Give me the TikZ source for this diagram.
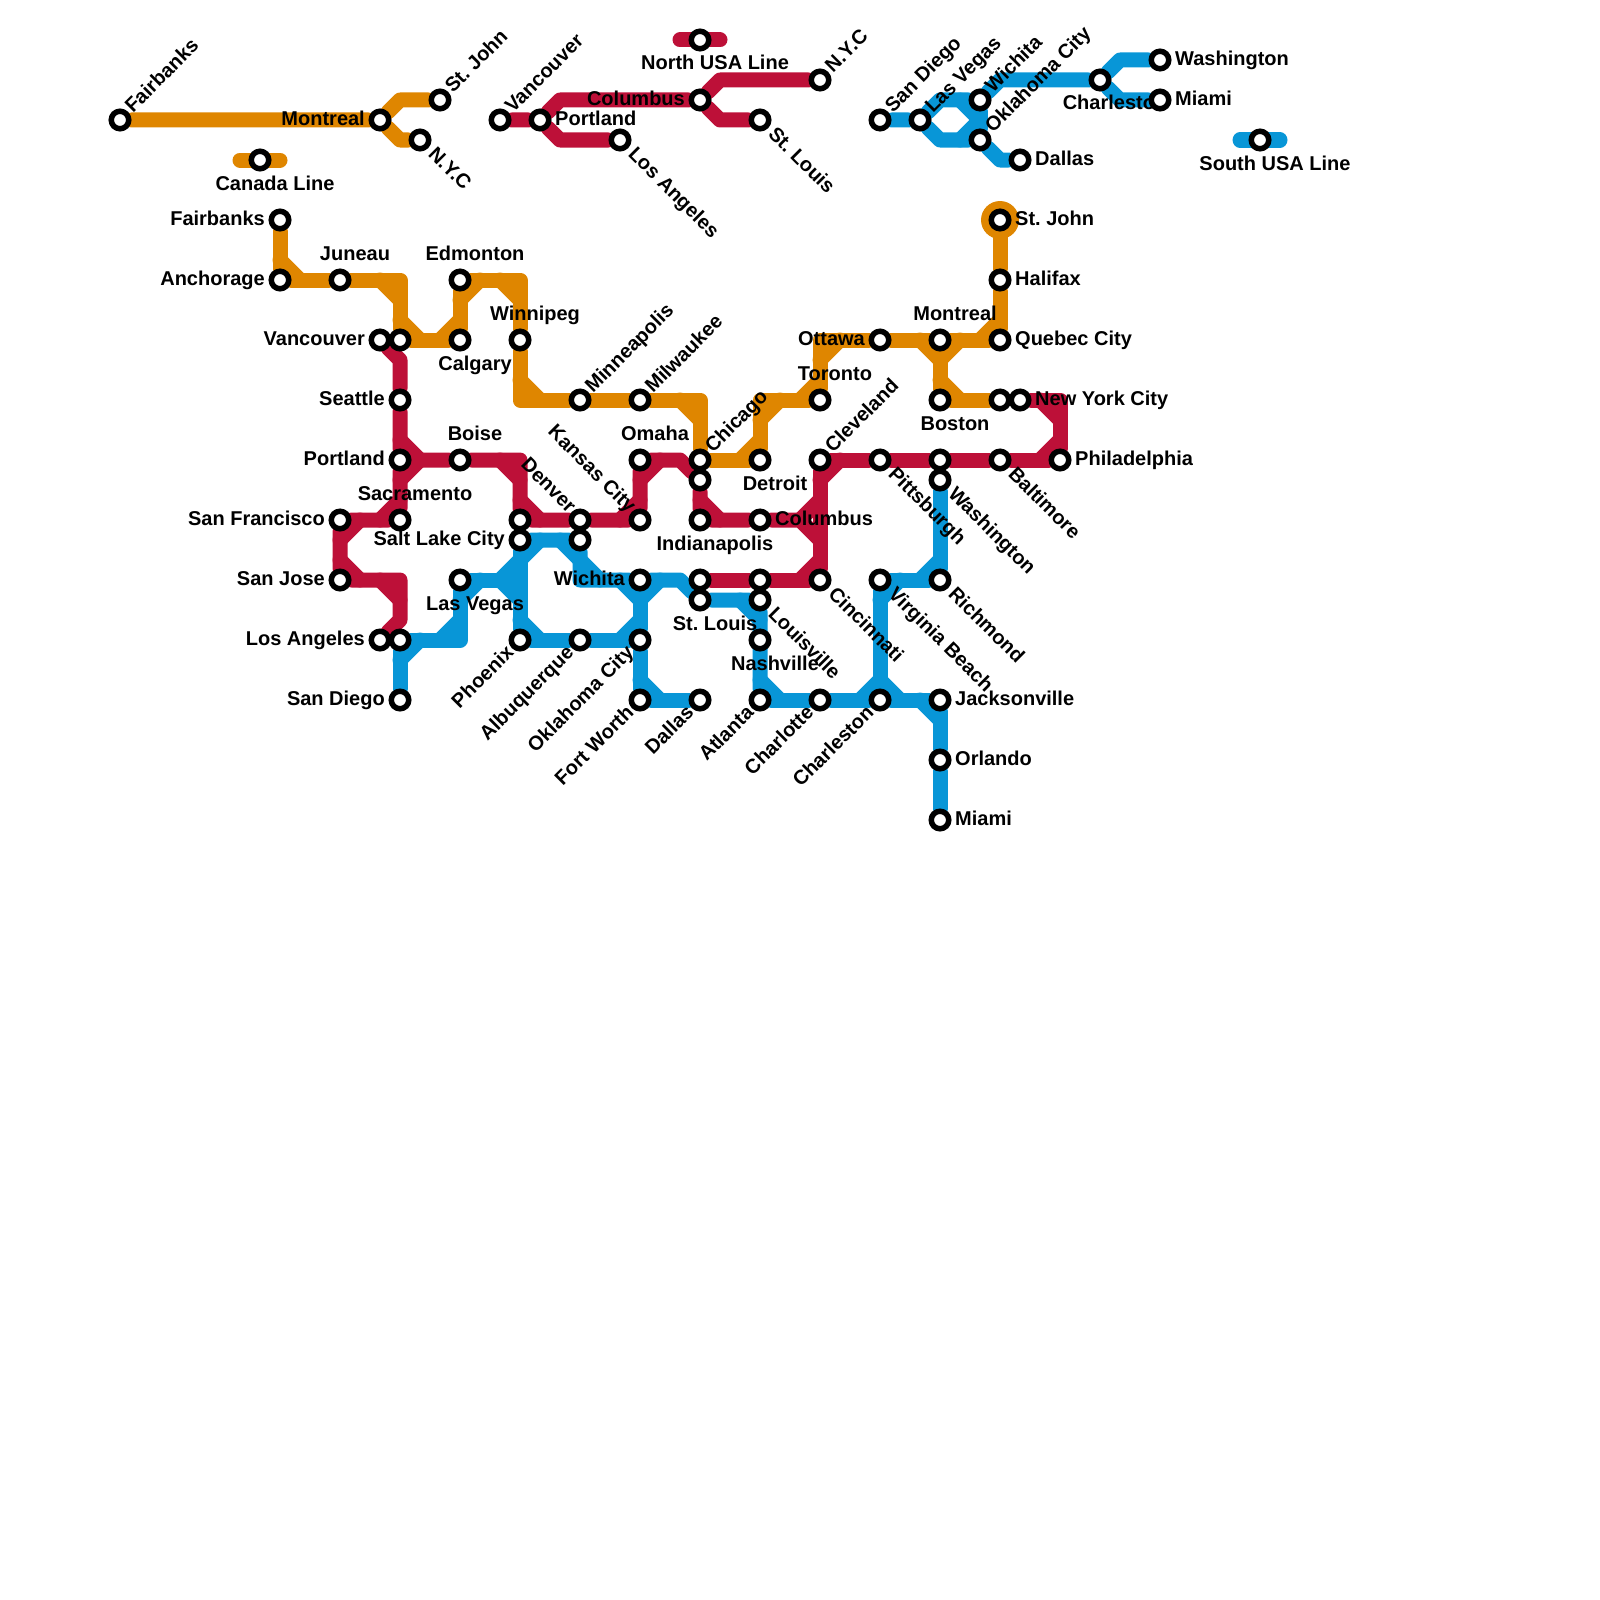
\documentclass[tikz,border=0pt]{standalone}
\usepackage{fontspec}
\setmainfont{Liberation Sans}
\pgfdeclarelayer{lines}
\pgfdeclarelayer{stops}
\pgfsetlayers{lines,main,stops}
\definecolor{canadaorange}{HTML}{DF8600}
\definecolor{northred}{HTML}{BD1038}
\definecolor{southblue}{HTML}{0896D7}
\tikzset{
    canada/.style={draw=canadaorange, line width=15pt, line cap=round, line join=round},
    north/.style={draw=northred, line width=15pt, line cap=round, line join=round},
    south/.style={draw=southblue, line width=15pt, line cap=round, line join=round},
    stn/.style={circle, draw=black, fill=white, line width=5.5pt, minimum size=17.5pt, inner sep=0pt},
    lbl/.style={inner sep=0pt, text=black, text height=15pt, text depth=4pt, font=\frenchspacing\fontsize{20}{24}\selectfont\bfseries},
    lblL/.style={lbl, anchor=east, xshift=-15pt},
    lblR/.style={lbl, anchor=west, xshift=15pt},
    lblA/.style={lbl, xshift=15pt, yshift=25pt},
    lblB/.style={lbl, xshift=15pt, yshift=-24.5pt},
    lblNE/.style={lbl, anchor=west, xshift=9pt, yshift=10pt, rotate=45},
    lblSE/.style={lbl, anchor=west, xshift=11pt, yshift=-11pt, rotate=-45},
    lblSW/.style={lbl, anchor=east, xshift=-9pt, yshift=-10pt, rotate=45},
    lblNW/.style={lbl, anchor=east, xshift=-8pt, yshift=10pt, rotate=-45}
}
\begin{document}
\begin{tikzpicture}[x=20pt, y=-20pt]
    \useasboundingbox (0, 0) rectangle (80, 80);

    \begin{pgfonlayer}{stops}
    % strip map, canada
    \node[stn] (aFairbanks) at (6, 6) {};
    \node[stn] (aMontreal) at (19, 6) {};
    \node[stn] (aStJohn) at (22, 5) {};
    \node[stn] (aNYC) at (21, 7) {};
    \node[stn] (aLegend) at (13, 8) {};
    % strip map, north
    \node[stn] (bVancouver) at (25, 6) {};
    \node[stn] (bPortland) at (27, 6) {};
    \node[stn] (bLosAngeles) at (31, 7) {};
    \node[stn] (bColumbus) at (35, 5) {};
    \node[stn] (bNYC) at (41, 4) {};
    \node[stn] (bStLouis) at (38, 6) {};
    \node[stn] (bLegend) at (35, 2) {};
    % strip map, south
    \node[stn] (cSanDiego) at (44, 6) {};
    \node[stn] (cLasVegas) at (46, 6) {};
    \node[stn] (cWichita) at (49, 5) {};
    \node[stn] (cOklahoma) at (49, 7) {};
    \node[stn] (cDallas) at (51, 8) {};
    \node[stn] (cCharleston) at (55, 4) {};
    \node[stn] (cWashington) at (58, 3) {};
    \node[stn] (cMiami) at (58, 5) {};
    \node[stn] (cLegend) at (63, 7) {};
    % main map, canada
    \node[stn] (sFairbanks) at (14, 11) {};
    \node[stn] (sAnchorage) at (14, 14) {};
    \node[stn] (sJuneau) at (17, 14) {};
    \node[stn] (sVancouverE) at (20, 17) {};
    \node[stn] (sCalgary) at (23, 17) {};
    \node[stn] (sEdmonton) at (23, 14) {};
    \node[stn] (sWinnipeg) at (26, 17) {};
    \node[stn] (sMinneapolis) at (29, 20) {};
    \node[stn] (sMilwaukee) at (32, 20) {};
    \node[stn] (sChicago) at (35, 23) {};
    \node[stn] (sDetroit) at (38, 23) {};
    \node[stn] (sToronto) at (41, 20) {};
    \node[stn] (sOttawa) at (44, 17) {};
    \node[stn] (sMontreal) at (47, 17) {};
    \node[stn] (sQuebec) at (50, 17) {};
    \node[stn] (sHalifax) at (50, 14) {};
    \node[stn] (sStJohn) at (50, 11) {};
    \node[stn] (sBoston) at (47, 20) {};
    \node[stn] (sBostonE) at (50, 20) {};
    % main map, north
    \node[stn] (sVancouver) at (19, 17) {};
    \node[stn] (sSeattle) at (20, 20) {};
    \node[stn] (sPortland) at (20, 23) {};
    \node[stn] (sSacramento) at (20, 26) {};
    \node[stn] (sSanFrancisco) at (17, 26) {};
    \node[stn] (sSanJose) at (17, 29) {};
    \node[stn] (sLosAngeles) at (19, 32) {};
    \node[stn] (sBoise) at (23, 23) {};
    \node[stn] (sDenverW) at (26, 26) {};
    \node[stn] (sDenver) at (29, 26) {};
    \node[stn] (sKansasCity) at (32, 26) {};
    \node[stn] (sOmaha) at (32, 23) {};
    \node[stn] (sChicagoS) at (35, 24) {};
    \node[stn] (sIndianapolis) at (35, 26) {};
    \node[stn] (sColumbus) at (38, 26) {};
    \node[stn] (sCleveland) at (41, 23) {};
    \node[stn] (sPittsburgh) at (44, 23) {};
    \node[stn] (sBostonS) at (47, 23) {};
    \node[stn] (sBaltimore) at (50, 23) {};
    \node[stn] (sPhiladelphia) at (53, 23) {};
    \node[stn] (sNewYork) at (51, 20) {};
    \node[stn] (sStLouisN) at (35, 29) {};
    \node[stn] (sLouisvilleN) at (38, 29) {};
    \node[stn] (sCincinnati) at (41, 29) {};
    % main map, south
    \node[stn] (sLosAngelesE) at (20, 32) {};
    \node[stn] (sSanDiego) at (20, 35) {};
    \node[stn] (sLasVegas) at (23, 29) {};
    \node[stn] (sSaltLake) at (26, 27) {};
    \node[stn] (sDenverS) at (29, 27) {};
    \node[stn] (sPhoenix) at (26, 32) {};
    \node[stn] (sAlbuquerque) at (29, 32) {};
    \node[stn] (sOklahoma) at (32, 32) {};
    \node[stn] (sWichita) at (32, 29) {};
    \node[stn] (sFortWorth) at (32, 35) {};
    \node[stn] (sDallas) at (35, 35) {};
    \node[stn] (sStLouis) at (35, 30) {};
    \node[stn] (sLouisville) at (38, 30) {};
    \node[stn] (sNashville) at (38, 32) {};
    \node[stn] (sAtlanta) at (38, 35) {};
    \node[stn] (sCharlotte) at (41, 35) {};
    \node[stn] (sCharleston) at (44, 35) {};
    \node[stn] (sVirginia) at (44, 29) {};
    \node[stn] (sRichmond) at (47, 29) {};
    \node[stn] (sWashington) at (47, 24) {};
    \node[stn] (sJacksonville) at (47, 35) {};
    \node[stn] (sOrlando) at (47, 38) {};
    \node[stn] (sMiami) at (47, 41) {};
    \end{pgfonlayer}

    % turning points
    \coordinate (tJuneau) at (20, 14);
    \coordinate (tEdmonton) at (26, 14);
    \coordinate (tWinnipeg) at (26, 20);
    \coordinate (tMilwaukee) at (35, 20);
    \coordinate (tDetroit) at (38, 20);
    \coordinate (tToronto) at (41, 17);
    \coordinate (tSanJose) at (20, 29);
    \coordinate (tBoise) at (26, 23);
    \coordinate (tOmaha) at (34, 23);
    \coordinate (tColumbus) at (40, 26);
    \coordinate (tPhiladelphia) at (53, 20);
    \coordinate (tLosAngeles) at (23, 32);
    \coordinate (tLasVegas) at (26, 29);
    \coordinate (tDenver) at (29, 29);
    \coordinate (tWichita) at (34, 29);

    \begin{pgfonlayer}{lines}
    % strip maps
    \draw[canada] (aFairbanks) -- (aMontreal) -- ++(1, -1) -- (aStJohn);
    \draw[canada] (aMontreal) -- ++(1, 1) -- (aNYC);
    \draw[canada] (aLegend) ++(-1, 0) -- ++(2, 0);
    \draw[north] (bVancouver) -- (bPortland) -- ++(1, -1) -- (bColumbus) -- ++(1, -1) -- (bNYC);
    \draw[north] (bPortland) -- ++(1, 1) -- (bLosAngeles);
    \draw[north] (bColumbus) -- ++(1, 1) -- (bStLouis);
    \draw[north] (bLegend) ++(-1, 0) -- ++(2, 0);
    \draw[south] (cSanDiego) -- (cLasVegas) -- ++(1, -1) -- (cWichita) -- ++(1, -1) -- (cCharleston) -- ++(1, -1) -- (cWashington);
    \draw[south] (cCharleston) -- ++(1, 1) -- (cMiami);
    \draw[south] (cLasVegas) -- ++(1, 1) -- (cOklahoma) -- ++(1, 1) -- (cDallas);
    \draw[south] (cWichita) -- (cOklahoma);
    \draw[south] (48, 5) -- (49, 6) -- (48, 7);
    \draw[south] (cLegend) ++(-1, 0) -- ++(2, 0);

    % canada
    \fill[canadaorange] (sStJohn) circle (19pt);
    \draw[canada] (sFairbanks) -- (sAnchorage) -- (sJuneau) -- (tJuneau) -- (sVancouverE) -- (sCalgary) -- (sEdmonton) -- (tEdmonton) -- (sWinnipeg) -- (tWinnipeg) -- (sMinneapolis) -- (sMilwaukee) -- (tMilwaukee) -- (sChicago) -- (sDetroit) -- (tDetroit) -- (sToronto) -- (tToronto) -- (sOttawa) -- (sMontreal) -- (sQuebec) -- (sHalifax) -- (sStJohn);
    \draw[canada] (sMontreal) -- (sBoston) -- (sBostonE);
        % corner cuts
        \draw[canada] (14, 13) -- (15, 14) (19, 14) -- (20, 15) (20, 16) -- (21, 17) (22, 17) -- (23, 16);
        \draw[canada] (23, 15) -- (24, 14) (25, 14) -- (26, 15) (26, 19) -- (27, 20) (34, 20) -- (35, 21);
        \draw[canada] (37, 23) -- (38, 22) (38, 21) -- (39, 20) (40, 20) -- (41, 19) (41, 18) -- (42, 17);
        \draw[canada] (46, 17) -- (47, 18) (48, 17) -- (47, 18) (47, 19) -- (48, 20) (49, 17) -- (50, 16);

    % north
    \draw[north] (sVancouver) -- ++(1, 1) -- (sSeattle) -- (sPortland) -- (sSacramento) -- (sSanFrancisco) -- (sSanJose) -- (tSanJose) -- ++(0, 2) -- (sLosAngeles);
    \draw[north] (sPortland) -- (sBoise) -- (tBoise) -- (sDenverW) -- (sDenver) -- (sKansasCity) -- (sOmaha) -- (tOmaha) -- (sChicagoS) -- (sIndianapolis) -- (sColumbus) -- (tColumbus) -- ++(1, 1);
    \draw[north] (tColumbus) -- ++(1, -1);
    \draw[north] (sCleveland) -- (sCincinnati) -- (sLouisvilleN) -- (sStLouisN);
    \draw[north] (sCleveland) -- (sPittsburgh) -- (sBostonS) -- (sBaltimore) -- (sPhiladelphia) -- (tPhiladelphia) -- (sNewYork);
        % corner cuts
        \draw[north] (20, 22) -- (21, 23) -- (20, 24) (20, 25) -- (19, 26) (18, 26) -- (17, 27) (17, 28) -- (18, 29);
        \draw[north] (19, 29) -- (20, 30) (25, 23) -- (26, 24) (26, 25) -- (27, 26) (31, 26) -- (32, 25);
        \draw[north] (32, 24) -- (33, 23) (35, 25) -- (36, 26) (41, 24) -- (42, 23) (40, 29) -- (41, 28);
        \draw[north] (52, 23) -- (53, 22) (52, 20) -- (53, 21);

    % south
    \draw[south] (sSanDiego) -- (sLosAngelesE) -- (tLosAngeles) -- (sLasVegas) -- (tLasVegas);
    \draw[south] (sSaltLake) -- (sPhoenix) -- (sAlbuquerque) -- (sOklahoma) -- (sFortWorth) -- (sDallas);
    \draw[south] (sSaltLake) -- (sDenverS) -- (tDenver) -- (sWichita) -- (tWichita) -- (sStLouis) -- (sLouisville) -- (sAtlanta);
    \draw[south] (sWichita) -- (sOklahoma);
    \draw[south] (sAtlanta) -- (sCharlotte) -- (sCharleston) -- (sJacksonville) -- (sOrlando) -- (sMiami);
    \draw[south] (sCharleston) -- (sVirginia) -- (sRichmond) -- (sWashington);
        % corner cuts
        \draw[south] (20, 33) -- (21, 32) (22, 32) -- (23, 31) (23, 30) -- (24, 29) (25, 29) -- (26, 28);
        \draw[south] (25, 29) -- (26, 30) (26, 31) -- (27, 32) (26, 28) -- (27, 27) (28, 27) -- (29, 28);
        \draw[south] (29, 28) -- (30, 29) (31, 29) -- (32, 30) -- (33, 29) (31, 32) -- (32, 31) (32, 34) -- (33, 35);
        \draw[south] (37, 30) -- (38, 31) (38, 34) -- (39, 35) (43, 35) -- (44, 34) -- (45, 35) (46, 35) -- (47, 36);
        \draw[south] (44, 30) -- (45, 29) (46, 29) -- (47, 28);
    \end{pgfonlayer}

    % labels, strip maps
    \node[lblNE] (laFairbanks) at (aFairbanks) {Fairbanks};
    \node[lblL] (laMontreal) at (aMontreal) {Montreal};
    \node[lblNE] (laStJohn) at (aStJohn) {St. John};
    \node[lblSE] (laNYC) at (aNYC) {N.Y.C};
    \node[lblB] (laLegend) at (aLegend) {Canada Line};
    \node[lblNE] (lbVancouver) at (bVancouver) {Vancouver};
    \node[lblR] (lbPortland) at (bPortland) {Portland};
    \node[lblSE] (lbLosAngeles) at (bLosAngeles) {Los Angeles};
    \node[lblL] (lbColumbus) at (bColumbus) {Columbus};
    \node[lblNE] (lbNYC) at (bNYC) {N.Y.C};
    \node[lblSE] (lbStLouis) at (bStLouis) {St. Louis};
    \node[lblB] (lbLegend) at (bLegend) {North USA Line};
    \node[lblNE] (lcSanDiego) at (cSanDiego) {San Diego};
    \node[lblNE] (lcLasVegas) at (cLasVegas) {Las Vegas};
    \node[lblNE] (lcWichita) at (cWichita) {Wichita};
    \node[lblNE] (lcOklahoma) at (cOklahoma) {Oklahoma City};
    \node[lblR] (lcDallas) at (cDallas) {Dallas};
    \node[lblB] (lcCharleston) at (cCharleston) {Charleston};
    \node[lblR] (lcWashington) at (cWashington) {Washington};
    \node[lblR] (lcMiami) at (cMiami) {Miami};
    \node[lblB] (lcLegend) at (cLegend) {South USA Line};

    % labels, canada
    \node[lblL] (lFairbanks) at (sFairbanks) {Fairbanks};
    \node[lblL] (lAnchorage) at (sAnchorage) {Anchorage};
    \node[lblA] (lJuneau) at (sJuneau) {Juneau};
    \node[lblB] (lCalgary) at (sCalgary) {Calgary};
    \node[lblA] (lEdmonton) at (sEdmonton) {Edmonton};
    \node[lblA] (lWinnipeg) at (sWinnipeg) {Winnipeg};
    \node[lblNE] (lMinneapolis) at (sMinneapolis) {Minneapolis};
    \node[lblNE] (lMilwaukee) at (sMilwaukee) {Milwaukee};
    \node[lblNE] (lChicago) at (sChicago) {Chicago};
    \node[lblB] (lDetroit) at (sDetroit) {Detroit};
    \node[lblA] (lToronto) at (sToronto) {Toronto};
    \node[lblL] (lOttawa) at (sOttawa) {Ottawa};
    \node[lblA] (lMontreal) at (sMontreal) {Montreal};
    \node[lblR] (lQuebec) at (sQuebec) {Quebec City};
    \node[lblR] (lHalifax) at (sHalifax) {Halifax};
    \node[lblR] (lStJohn) at (sStJohn) {St. John};
    \node[lblB] (lBoston) at (sBoston) {Boston};

    % labels, north
    \node[lblL] (lVancouver) at (sVancouver) {Vancouver};
    \node[lblL] (lSeattle) at (sSeattle) {Seattle};
    \node[lblL] (lPortland) at (sPortland) {Portland};
    \node[lblA] (lSacramento) at (sSacramento) {Sacramento};
    \node[lblL] (lSanFrancisco) at (sSanFrancisco) {San Francisco};
    \node[lblL] (lSanJose) at (sSanJose) {San Jose};
    \node[lblL] (lLosAngeles) at (sLosAngeles) {Los Angeles};
    \node[lblA] (lBoise) at (sBoise) {Boise};
    \node[lblNW] (lDenver) at (sDenver) {Denver};
    \node[lblNW] (lKansasCity) at (sKansasCity) {Kansas City};
    \node[lblA] (lOmaha) at (sOmaha) {Omaha};
    \node[lblB] (lIndianapolis) at (sIndianapolis) {Indianapolis};
    \node[lblR] (lColumbus) at (sColumbus) {Columbus};
    \node[lblNE] (lCleveland) at (sCleveland) {Cleveland};
    \node[lblSE] (lPittsburgh) at (sPittsburgh) {Pittsburgh};
    \node[lblSE] (lBaltimore) at (sBaltimore) {Baltimore};
    \node[lblR] (lPhiladelphia) at (sPhiladelphia) {Philadelphia};
    \node[lblR] (lNewYork) at (sNewYork) {New York City};
    \node[lblSE] (lCincinnati) at (sCincinnati) {Cincinnati};

    % labels, south
    \node[lblL] (lSanDiego) at (sSanDiego) {San Diego};
    \node[lblB] (lLasVegas) at (sLasVegas) {Las Vegas};
    \node[lblL] (lSaltLake) at (sSaltLake) {Salt Lake City};
    \node[lblSW] (lPhoenix) at (sPhoenix) {Phoenix};
    \node[lblSW] (lAlbuquerque) at (sAlbuquerque) {Albuquerque};
    \node[lblSW] (lOklahoma) at (sOklahoma) {Oklahoma City};
    \node[lblL] (lWichita) at (sWichita) {Wichita};
    \node[lblSW] (lFortWorth) at (sFortWorth) {Fort Worth};
    \node[lblSW] (lDallas) at (sDallas) {Dallas};
    \node[lblB] (lStLouis) at (sStLouis) {St. Louis};
    \node[lblSE] (lLouisville) at (sLouisville) {Louisville};
    \node[lblB] (lNashville) at (sNashville) {Nashville};
    \node[lblSW] (lAtlanta) at (sAtlanta) {Atlanta};
    \node[lblSW] (lCharlotte) at (sCharlotte) {Charlotte};
    \node[lblSW] (lCharleston) at (sCharleston) {Charleston};
    \node[lblSE] (lVirginia) at (sVirginia) {Virginia Beach};
    \node[lblSE] (lRichmond) at (sRichmond) {Richmond};
    \node[lblSE] (lWashington) at (sWashington) {Washington};
    \node[lblR] (lJacksonville) at (sJacksonville) {Jacksonville};
    \node[lblR] (lOrlando) at (sOrlando) {Orlando};
    \node[lblR] (lMiami) at (sMiami) {Miami};
\end{tikzpicture}
\end{document}
